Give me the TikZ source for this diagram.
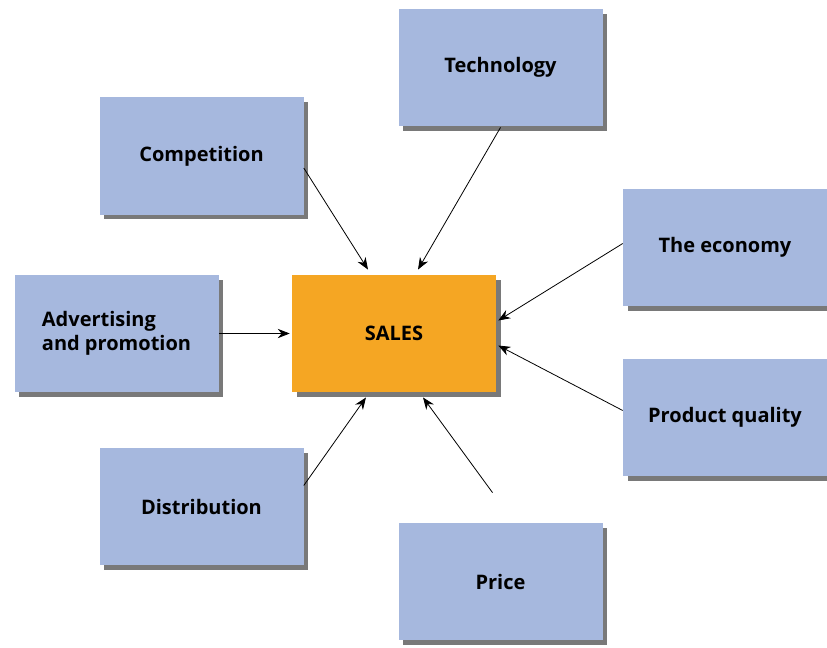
\documentclass[tikz,border=0pt]{standalone}
\usepackage{fontspec}
\setmainfont{Open Sans}
\usepackage{xcolor}
\usetikzlibrary{arrows.meta,calc,shadows}

\definecolor{boxblue}{RGB}{166,184,222}
\definecolor{salesorange}{RGB}{245,166,35}

\begin{document}
\begin{tikzpicture}[
		x=0.75pt,y=-0.75pt,
		font=\fontsize{15}{18}\selectfont\bfseries,
		factor/.style={fill=boxblue,minimum width=153pt,minimum height=88pt,inner sep=2pt,align=left,
			drop shadow={shadow xshift=3.5pt,shadow yshift=-3.5pt,fill=black!70,opacity=0.75}},
		core/.style={factor,fill=salesorange},
		infl/.style={-{Stealth[length=9pt,width=7pt]},line width=0.6pt}
		]
		\useasboundingbox (0,0) rectangle (827,647);

		\node[core] (sales) at (394,333.5) {SALES};
		\node[factor] (tech) at (500.5,67.5) {Technology};
		\node[factor] (comp) at (201.5,156) {Competition};
		\node[factor] (econ) at (725,247.5) {The economy};
		\node[factor] (adv) at (116.5,333.5) {Advertising\\and promotion};
		\node[factor] (qual) at (725,417.5) {Product quality};
		\node[factor] (dist) at (201.5,506.5) {Distribution};
		\node[factor] (price) at (500.5,581.5) {Price};

		\draw[infl] ($(comp.east)+(0,12)$) -- ($(sales.north)+(-26,-5)$);
		\draw[infl] ($(tech.south)+(0,1)$) -- ($(sales.north)+(24,-5)$);
		\draw[infl] ($(econ.west)+(0,-4)$) -- ($(sales.east)+(2,-13)$);
		\draw[infl] ($(qual.west)+(0,-7)$) -- ($(sales.east)+(2,12)$);
		\draw[infl] ($(price.north)+(-8,-30)$) -- ($(sales.south)+(29,5)$);
		\draw[infl] ($(dist.east)+(0,-21)$) -- ($(sales.south)+(-28,5)$);
		\draw[infl] (adv.east) -- ($(sales.west)+(-2,0)$);
	\end{tikzpicture}
\end{document}
